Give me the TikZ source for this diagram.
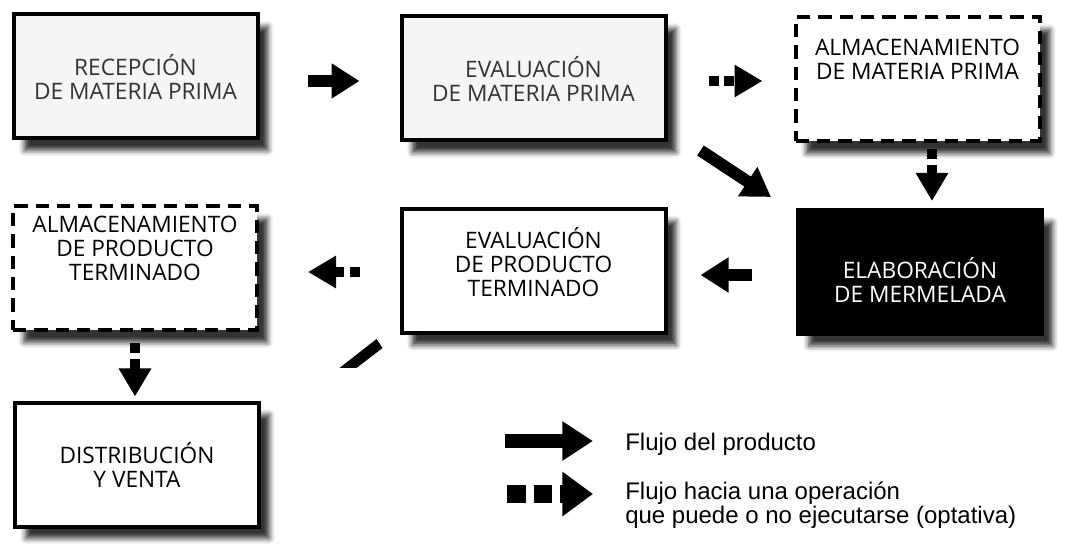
\documentclass[tikz,border=0pt]{standalone}
\usepackage{fontspec}
\setmainfont{Open Sans}
\newfontfamily\legendfont{Liberation Sans}
\usetikzlibrary{arrows.meta,shadows.blur}

\begin{document}
\begin{tikzpicture}[x=0.75pt,y=-0.75pt,
  box/.style={draw,line width=3pt,fill=white,minimum width=183pt,minimum height=93pt,
    align=center,font=\fontsize{17}{18}\selectfont,
    blur shadow={shadow xshift=8pt,shadow yshift=-9pt,shadow blur radius=4pt,shadow opacity=80}},
  widebox/.style={box,minimum width=198pt},
  optbox/.style={box,dash pattern=on 10pt off 6pt},
  boxtext/.style={align=center,font=\fontsize{17}{18}\selectfont},
  flow/.style={line width=9pt,-{Triangle[length=21pt,width=25pt]}},
  optflow/.style={line width=7.5pt,dash pattern=on 7.5pt off 4pt,-{Triangle[length=21pt,width=23pt]}},
  legend/.style={align=left,inner sep=0pt,font=\legendfont\fontsize{18}{17.5}\selectfont}]

\useasboundingbox (0,0) rectangle (1073,548);

% boxes
\node[box,fill=gray!8,text=black!80] (rec) at (135.5,76.5) {RECEPCIÓN\\DE MATERIA PRIMA};
\node[widebox,fill=gray!8,text=black!80] (evm) at (533.5,78.5) {EVALUACIÓN\\DE MATERIA PRIMA};
\node[optbox] (amp) at (917.5,79.5) {};
\node[boxtext] (amptext) at ([yshift=15pt]amp.center) {ALMACENAMIENTO\\DE MATERIA PRIMA};
\node[box,fill=black] (ela) at (920,272) {};
\node[boxtext,text=white] (elatext) at ([yshift=-6pt]ela.center) {ELABORACIÓN\\DE MERMELADA};
\node[widebox] (evp) at (533.5,271) {};
\node[boxtext] (evptext) at ([yshift=7pt]evp.center) {EVALUACIÓN\\DE PRODUCTO\\TERMINADO};
\node[optbox] (apt) at (135,268.5) {};
\node[boxtext] (apttext) at ([yshift=15pt]apt.center) {ALMACENAMIENTO\\DE PRODUCTO\\TERMINADO};
\node[box] (dis) at (137,464.5) {DISTRIBUCIÓN\\Y VENTA};

% arrows
\draw[flow] ([shift={(48,4.5)}]rec.east) -- ([shift={(-40,2.5)}]evm.west);
\draw[optflow] ([shift={(41,2.5)}]evm.east) -- ([shift={(-31,1.5)}]amp.west);
\draw[flow] ([shift={(33,8)}]evm.south east) -- ([shift={(-25,-11)}]ela.north west);
\draw[optflow] ([shift={(14.5,6)}]amp.south) -- ([shift={(12,-7)}]ela.north);
\draw[flow] ([shift={(-44,3)}]ela.west) -- ([shift={(33,4)}]evp.east);
\draw[optflow] ([shift={(-40,1)}]evp.west) -- ([shift={(49,3.5)}]apt.east);
\draw[optflow] ([shift={(0,11)}]apt.south) -- ([shift={(-2,-4)}]dis.north);

% stroke under evp
\fill ([shift={(-60,33)}]evp.south west) -- ([shift={(-43,33)}]evp.south west)
  -- ([shift={(-17,13)}]evp.south west) -- ([shift={(-23,4)}]evp.south west) -- cycle;

% legend
\coordinate (solidkey) at (505,441);
\coordinate (optkey) at (507,494);
\draw[flow,line width=11pt,-{Triangle[length=23pt,width=28pt]}] (solidkey) -- ++(88,0);
\draw[optflow,line width=13pt,dash pattern=on 14pt off 6pt,-{Triangle[length=23pt,width=32pt]}] (optkey) -- ++(86,0);
\node[legend,anchor=base west] (solidtext) at (625,450) {Flujo del producto};
\node[legend,anchor=base west] (opttext) at (625,523) {Flujo hacia una operación\\que puede o no ejecutarse (optativa)};

\end{tikzpicture}
\end{document}
